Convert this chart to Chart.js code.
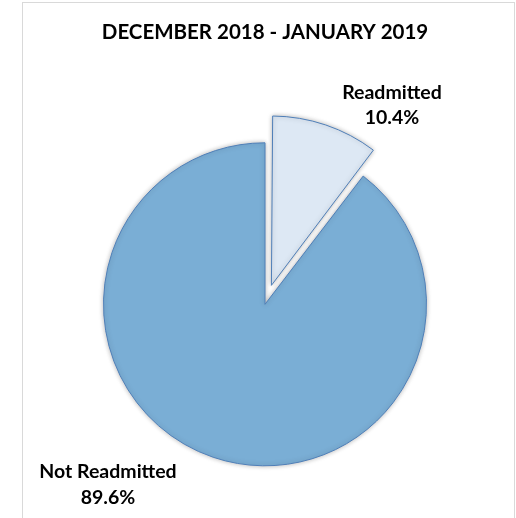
<!DOCTYPE html>
<html>
<head>
<meta charset="utf-8">
<script src="https://cdn.jsdelivr.net/npm/chart.js@4/dist/chart.umd.min.js"></script>
<style>
  html, body { margin: 0; padding: 0; background: #fff; }
  #wrap { width: 516px; height: 518px; position: relative; }
</style>
</head>
<body>
<div id="wrap"><canvas id="c" width="516" height="518"></canvas></div>
<script>
const chartTitle = 'DECEMBER 2018 - JANUARY 2019';
const categories = ['Readmitted', 'Not Readmitted'];
const percentValues = [10.4, 89.6];
const sliceColors = ['#dde8f4', '#7aaed5'];
const explode = [80, 0];

const FONT = 'Lato, "Open Sans", sans-serif';

const framePlugin = {
  id: 'frame',
  beforeDraw(chart) {
    const ctx = chart.ctx;
    ctx.save();
    ctx.strokeStyle = '#d9d9d9';
    ctx.lineWidth = 1;
    ctx.strokeRect(22.5, 2.5, 492, 530);
    ctx.restore();
  }
};

const shadowPlugin = {
  id: 'shadow',
  beforeDatasetsDraw(chart) {
    const ctx = chart.ctx;
    ctx.save();
    ctx.shadowColor = 'rgba(0,0,0,0.28)';
    ctx.shadowBlur = 5;
    ctx.shadowOffsetX = 0;
    ctx.shadowOffsetY = 0;
  },
  afterDatasetsDraw(chart) {
    chart.ctx.restore();
  }
};

const labelPos = [
  { x: 392, y1: 93, y2: 118 },
  { x: 108, y1: 472, y2: 498 }
];

const labelPlugin = {
  id: 'sliceLabels',
  afterDraw(chart) {
    const ctx = chart.ctx;
    ctx.save();
    ctx.fillStyle = '#000';
    ctx.font = 'bold 19.5px ' + FONT;
    ctx.textAlign = 'center';
    ctx.textBaseline = 'middle';
    categories.forEach((name, i) => {
      const p = labelPos[i];
      ctx.fillText(name, p.x, p.y1);
      ctx.fillText(percentValues[i].toFixed(1) + '%', p.x, p.y2);
    });
    ctx.restore();
  }
};

new Chart(document.getElementById('c'), {
  type: 'pie',
  data: {
    labels: categories,
    datasets: [{
      data: percentValues,
      backgroundColor: sliceColors,
      borderColor: '#4f7fb8',
      borderWidth: 1,
      offset: explode,
      radius: 161.5
    }]
  },
  options: {
    responsive: false,
    animation: false,
    layout: { padding: { left: 14, right: 0, top: 0, bottom: 4 } },
    plugins: {
      legend: { display: false },
      tooltip: { enabled: false },
      title: {
        display: true,
        text: chartTitle,
        color: '#000',
        font: { family: FONT, size: 20.5, weight: 'bold', lineHeight: 1.2 },
        padding: { top: 20, bottom: 50 }
      }
    }
  },
  plugins: [framePlugin, shadowPlugin, labelPlugin]
});
</script>
</body>
</html>
